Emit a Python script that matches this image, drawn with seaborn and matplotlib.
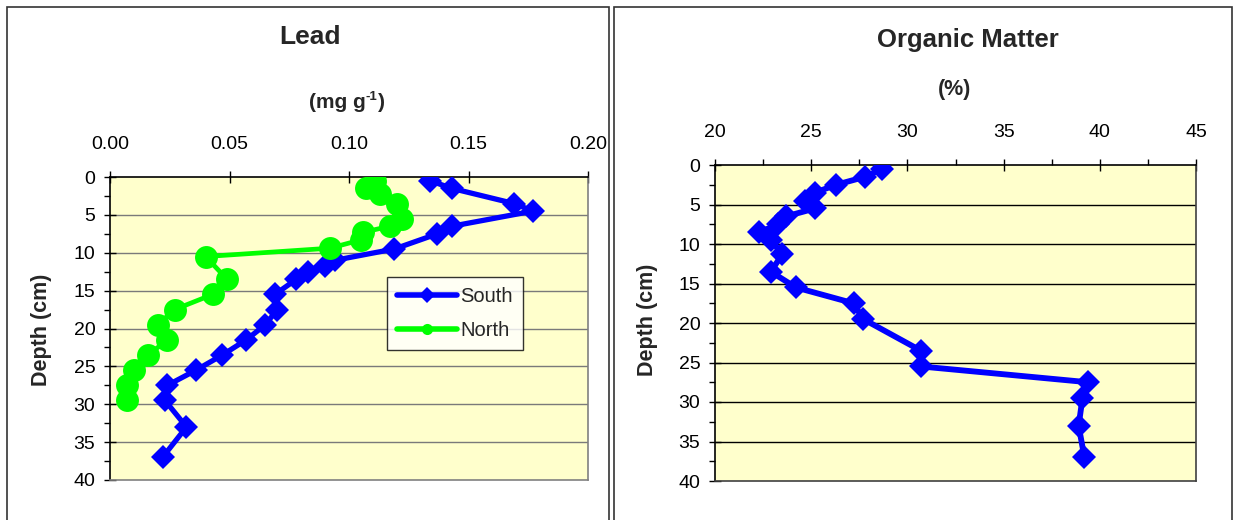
import matplotlib
matplotlib.use("Agg")
import matplotlib.pyplot as plt
from matplotlib.patches import Rectangle
from matplotlib.ticker import MultipleLocator, FormatStrFormatter
import seaborn as sns
import pandas as pd

# ---- data ----
south_depth = [0.5, 1.5, 3.5, 4.5, 6.5, 7.5, 9.5, 11.0, 11.8, 12.5, 13.5, 15.5, 17.5,
               19.5, 21.5, 23.5, 25.5, 27.5, 29.5, 33.0, 37.0]
south_lead = [0.134, 0.143, 0.169, 0.177, 0.143, 0.137, 0.119, 0.094, 0.090, 0.083, 0.078,
              0.069, 0.070, 0.065, 0.057, 0.047, 0.036, 0.024, 0.023, 0.032, 0.022]

north_depth = [0.5, 1.5, 2.2, 3.5, 5.5, 6.5, 7.3, 8.3, 9.4, 10.5, 13.5, 15.5, 17.5, 19.5,
               21.5, 23.5, 25.5, 27.5, 29.5]
north_lead = [0.111, 0.107, 0.113, 0.120, 0.122, 0.117, 0.106, 0.105, 0.092, 0.040, 0.049,
              0.043, 0.027, 0.020, 0.024, 0.016, 0.010, 0.007, 0.007]

om_depth = [0.5, 1.5, 2.5, 3.5, 4.5, 5.5, 6.5, 7.5, 8.5, 9.5, 11.3, 13.5, 15.5, 17.5, 19.5,
            23.5, 25.5, 27.5, 29.5, 33.0, 37.0]
om_pct = [28.7, 27.8, 26.3, 25.2, 24.7, 25.2, 23.7, 23.3, 22.3, 22.9, 23.5, 22.9, 24.2,
          27.2, 27.7, 30.7, 30.7, 39.4, 39.1, 38.9, 39.2]

lead_ticks = [0.00, 0.05, 0.10, 0.15, 0.20]
om_ticks = [20, 25, 30, 35, 40, 45]
depth_ticks = [0, 5, 10, 15, 20, 25, 30, 35, 40]

south_df = pd.DataFrame({"lead": south_lead, "depth": south_depth})
north_df = pd.DataFrame({"lead": north_lead, "depth": north_depth})
om_df = pd.DataFrame({"om": om_pct, "depth": om_depth})

sns.set_theme(style="white")
plt.rcParams["font.family"] = ["Liberation Sans", "DejaVu Sans"]

W, H = 1235, 520
fig = plt.figure(figsize=(W / 100, H / 100), dpi=100)
fig.patch.set_facecolor("white")

# panel frames
fig.patches.append(Rectangle((7 / W, -0.1), (609 - 7) / W, 1.1 - 7 / H, transform=fig.transFigure,
                             fill=False, edgecolor="#333333", linewidth=1.2))
fig.patches.append(Rectangle((614 / W, -0.1), (1232 - 614) / W, 1.1 - 7 / H, transform=fig.transFigure,
                             fill=False, edgecolor="#333333", linewidth=1.2))

BLUE = "#0000FF"
GREEN = "#00FF00"
BG = "#FFFFCC"


def style_axes(ax, xlim, xticks, xminor, grid_color, border_color, fmt):
    ax.set_facecolor(BG)
    ax.set_xlim(*xlim)
    ax.set_ylim(40, 0)
    ax.xaxis.tick_top()
    ax.set_xticks(xticks)
    ax.xaxis.set_major_formatter(FormatStrFormatter(fmt))
    if xminor:
        ax.xaxis.set_minor_locator(MultipleLocator(xminor))
    ax.set_yticks(depth_ticks)
    ax.yaxis.set_minor_locator(MultipleLocator(2.5))
    ax.tick_params(axis="both", which="major", direction="inout", length=9, width=1,
                   color="black", labelsize=14, labelcolor="black")
    ax.tick_params(axis="x", which="major", pad=13)
    ax.tick_params(axis="y", which="major", pad=6)
    ax.tick_params(axis="both", which="minor", direction="out", length=4, width=1, color="black")
    ax.tick_params(axis="x", which="both", top=True, bottom=False)
    ax.tick_params(axis="y", which="both", left=True, right=False)
    for y in depth_ticks[1:-1]:
        ax.axhline(y, color=grid_color, linewidth=1.0, zorder=0.5)
    for s in ["top", "left"]:
        ax.spines[s].set_color("black")
        ax.spines[s].set_linewidth(1.2)
    for s in ["right", "bottom"]:
        ax.spines[s].set_color(border_color)
        ax.spines[s].set_linewidth(1.2)
    ax.set_xlabel("")
    ax.set_ylabel("")


# ---- Lead panel ----
ax1 = fig.add_axes([110 / W, 1 - 480 / H, (588 - 110) / W, (480 - 177) / H])
sns.lineplot(data=south_df, x="lead", y="depth", sort=False, estimator=None, ax=ax1,
             color=BLUE, linewidth=3.8, marker="D", markersize=12.5, markeredgewidth=0,
             label="South", zorder=3)
sns.lineplot(data=north_df, x="lead", y="depth", sort=False, estimator=None, ax=ax1,
             color=GREEN, linewidth=3.4, marker="o", markersize=16.5, markeredgewidth=0,
             label="North", zorder=4)
style_axes(ax1, (0, 0.2), lead_ticks, None, "#7a7a7a", "#808080", "%.2f")
leg = ax1.legend(loc="upper left", bbox_to_anchor=((387 - 110) / (588 - 110), 1 - (277 - 177) / (480 - 177)),
                 frameon=True, fancybox=False, fontsize=14.5, handlelength=3.0, borderpad=0.5,
                 labelspacing=0.75, handletextpad=0.15, borderaxespad=0)
leg.get_frame().set_edgecolor("black")
leg.get_frame().set_linewidth(1.0)
leg.get_frame().set_facecolor("white")
for h in leg.get_lines():
    h.set_markersize(8)
    h.set_linewidth(4)

# ---- Organic matter panel ----
ax2 = fig.add_axes([715 / W, 1 - 481 / H, (1196 - 715) / W, (481 - 165) / H])
sns.lineplot(data=om_df, x="om", y="depth", sort=False, estimator=None, ax=ax2,
             color=BLUE, linewidth=4.2, marker="D", markersize=12.5, markeredgewidth=0,
             legend=False, zorder=3)
style_axes(ax2, (20, 45), om_ticks, 2.5, "black", "#404040", "%d")

# ---- titles and labels ----
fig.text(310 / W, 1 - 37 / H, "Lead", ha="center", va="center", fontsize=19, fontweight="bold")
fig.text(968 / W, 1 - 40 / H, "Organic Matter", ha="center", va="center", fontsize=18.5,
         fontweight="bold")
fig.text(955 / W, 1 - 90 / H, "(%)", ha="center", va="center", fontsize=15.5, fontweight="bold")
fig.text(42 / W, 1 - 330 / H, "Depth (cm)", ha="center", va="center", rotation=90,
         fontsize=15.5, fontweight="bold")
fig.text(648 / W, 1 - 320 / H, "Depth (cm)", ha="center", va="center", rotation=90,
         fontsize=15.5, fontweight="bold")

# unit label "(mg g-1)" with a raised "-1"
renderer = fig.canvas.get_renderer()
t1 = fig.text(0, 1 - 103 / H, "(mg g", ha="left", va="center", fontsize=15, fontweight="bold")
t2 = fig.text(0, 1 - 97 / H, "-1", ha="left", va="center", fontsize=9.5, fontweight="bold")
t3 = fig.text(0, 1 - 103 / H, ")", ha="left", va="center", fontsize=15, fontweight="bold")
w1 = t1.get_window_extent(renderer).width
w2 = t2.get_window_extent(renderer).width
w3 = t3.get_window_extent(renderer).width
total = w1 + w2 + w3
x0 = 347 - total / 2
t1.set_x(x0 / W)
t2.set_x((x0 + w1) / W)
t3.set_x((x0 + w1 + w2) / W)

fig.savefig("out.png", dpi=100)
